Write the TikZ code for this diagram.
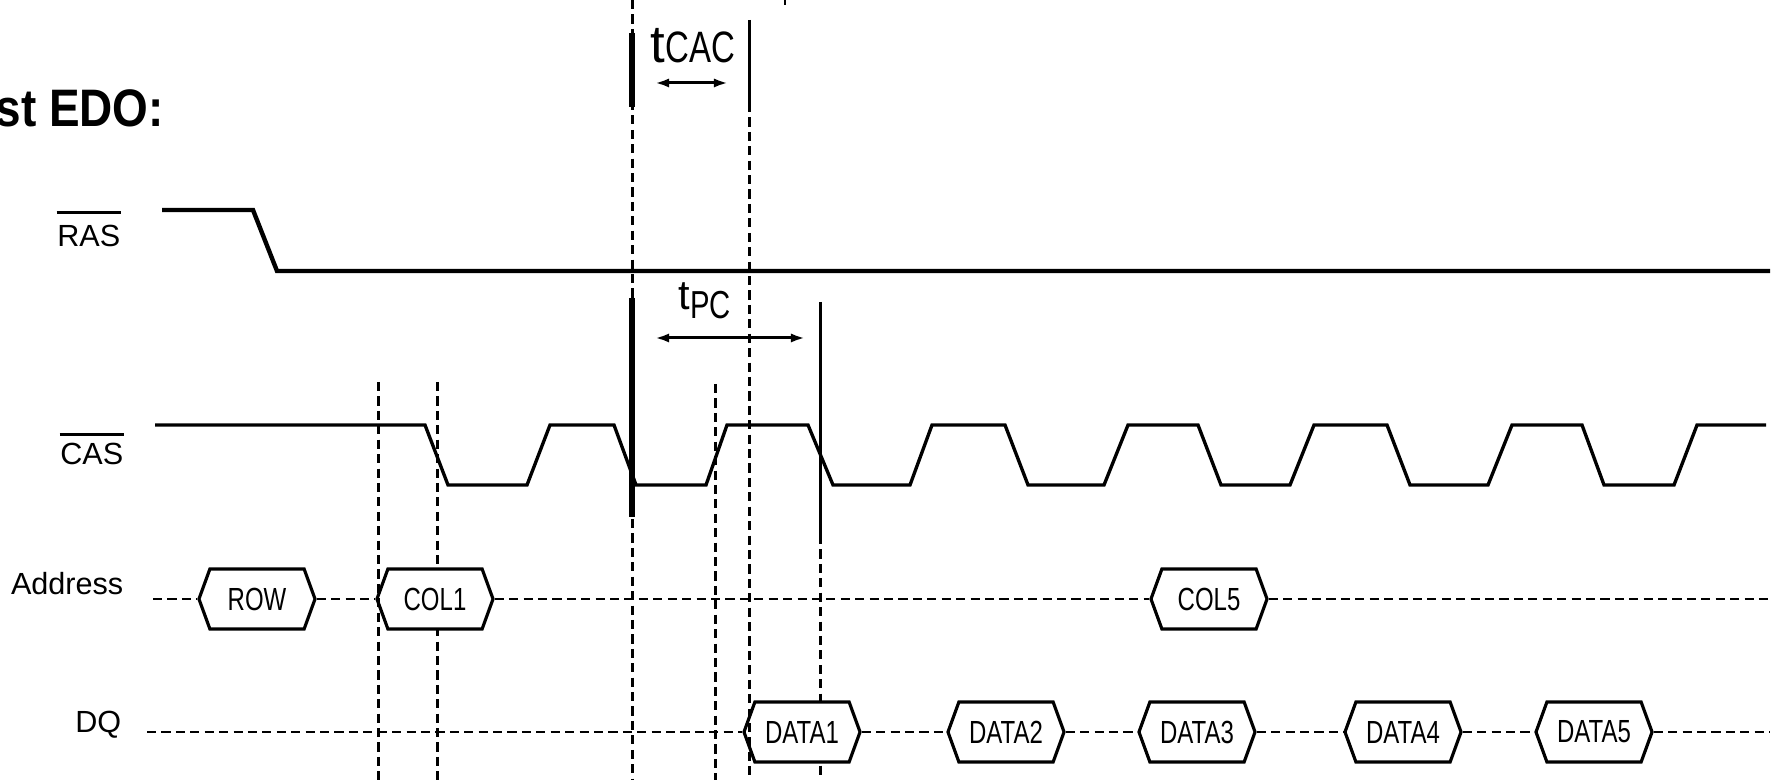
\documentclass[tikz,border=0pt]{standalone}
\usepackage{fontspec}
\setmainfont{Liberation Sans}
\newfontfamily\narrowfont{Liberation Sans}[FakeStretch=0.75]
\newfontfamily\titlefont{Liberation Sans}[FakeStretch=0.87]
\usetikzlibrary{shapes.symbols}
\usetikzlibrary{arrows.meta}

\begin{document}
\begin{tikzpicture}[x=0.01cm,y=-0.01cm,
  lbl/.style={font=\fontsize{8.7}{10}\selectfont,inner sep=0pt,anchor=base east},
  overbar/.style={line width=0.85pt},
  val/.style={draw,line width=0.9pt,fill=white,signal,signal to=west and east,
    signal pointer angle=140,minimum width=1.16cm,minimum height=0.6cm,inner sep=0pt,
    font=\narrowfont\fontsize{9.1}{10}\selectfont},
  guide/.style={line width=0.85pt,dash pattern=on 2.6pt off 1.5pt},
  mark line/.style={line width=0.85pt},
  dim/.style={line width=0.85pt,<->,>={Latex[length=4pt,width=2.6pt]}}]
\useasboundingbox (0,0) rectangle (1777,780);

% title (cut at the left)
\node[font=\titlefont\bfseries\fontsize{15}{16}\selectfont,inner sep=0pt,anchor=base west] (title) at (-5,127) {st EDO:};
\draw[line width=0.6pt] (785,0) -- (785,5);

% signal names
\node[lbl] (ras) at (121,247) {RAS};
\draw[overbar] ([yshift=3.4pt]ras.north west) -- ([yshift=3.4pt]ras.north east);
\node[lbl] (cas) at (124,465) {CAS};
\draw[overbar] ([yshift=2.4pt]cas.north west) -- ([yshift=2.4pt]cas.north east);
\node[lbl] (adr) at (124,595) {Address};
\node[lbl] (dq) at (122,732) {DQ};

% RAS and CAS
\draw[line width=1.25pt] (162,210) -- (253,210) -- (277,271) -- (1770,271);
\draw[line width=0.95pt] (155,425) -- (425,425) -- (448,485) -- (527,485) -- (550,425)
  -- (614,425) -- (636,485) -- (706,485) -- (727,425)
  -- (808,425) -- (833,485) -- (910,485) -- (932,425)
  -- (1005,425) -- (1028,485) -- (1104,485) -- (1128,425)
  -- (1198,425) -- (1221,485) -- (1290,485) -- (1314,425)
  -- (1387,425) -- (1410,485) -- (1488,485) -- (1512,425)
  -- (1582,425) -- (1604,485) -- (1674,485) -- (1697,425) -- (1766,425);

% timing marks
\draw[guide] (437,382) -- (437,780);
\draw[guide] (632,0) -- (632,780);
\draw[line width=1.6pt] (632,33) -- (632,107);
\draw[line width=1.6pt] (632,298) -- (632,517);
\draw[guide] (715,384) -- (715,780);
\draw[mark line] (820,302) -- (820,535);
\draw[guide] (820,535) -- (820,780);

% address bus
\coordinate (adr0) at (153,599);
\coordinate (adr1) at (1770,599);
\node[val] (row) at (257,599) {ROW};
\node[val] (col1) at (435,599) {COL1};
\node[val] (col5) at (1209,599) {COL5};
\draw[guide] (adr0) -- (row.west);
\draw[guide] (row.east) -- (col1.west);
\draw[guide] (col1.east) -- (col5.west);
\draw[guide] (col5.east) -- (adr1);

% data bus
\coordinate (dq0) at (147,732);
\coordinate (dq1) at (1770,732);
\node[val] (data1) at (802,732) {DATA1};
\node[val] (data2) at (1006,732) {DATA2};
\node[val] (data3) at (1197,732) {DATA3};
\node[val] (data4) at (1403,732) {DATA4};
\node[val] (data5) at (1594,732) {DATA5};
\draw[guide] (dq0) -- (data1.west);
\draw[guide] (data1.east) -- (data2.west);
\draw[guide] (data2.east) -- (data3.west);
\draw[guide] (data3.east) -- (data4.west);
\draw[guide] (data4.east) -- (data5.west);
\draw[guide] (data5.east) -- (dq1);

\draw[guide] (378,382) -- (378,780);
\draw[mark line] (749,20) -- (749,103);
\draw[guide] (749,103) -- (749,780);

% tCAC and tPC
\node[inner sep=0pt,anchor=base west] (tcac) at (650,63) {\fontsize{15}{16}\selectfont t\narrowfont\fontsize{12.5}{14}\selectfont CAC};
\coordinate (cacl) at (655,83);
\coordinate (cacr) at (728,83);
\draw[dim] (cacl) -- (cacr);
\node[inner sep=0pt,anchor=base west] (tpc) at (678,310) {\fontsize{11.8}{13}\selectfont t\raisebox{-2.3pt}{\narrowfont\fontsize{11.1}{13}\selectfont PC}};
\coordinate (pcl) at (655,338);
\coordinate (pcr) at (805,338);
\draw[dim] (pcl) -- (pcr);

\end{tikzpicture}
\end{document}
